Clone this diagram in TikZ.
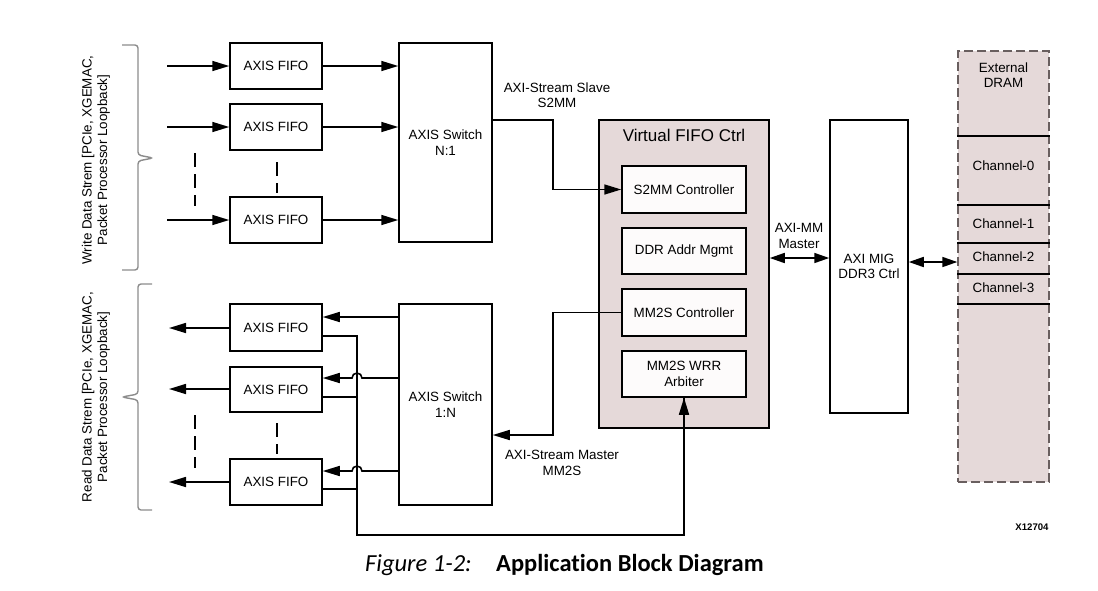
\documentclass[tikz,border=0pt]{standalone}
\usepackage{fontspec}
\setmainfont{Liberation Sans}
\newfontfamily\capfont[Ligatures=NoCommon]{Carlito}
\usetikzlibrary{arrows.meta}
\definecolor{pinkfill}{RGB}{229,217,217}
\definecolor{innerfill}{RGB}{253,251,251}
\definecolor{bracegray}{RGB}{140,140,140}
\definecolor{dashgray}{RGB}{105,95,95}
\begin{document}
\begin{tikzpicture}[x=1pt,y=-1pt,
  txt/.style={font=\fontsize{13.4}{15.5}\selectfont,align=center,inner sep=0pt},
  blk/.style={txt,draw=black,line width=1.5pt,fill=white,minimum width=92pt,minimum height=46pt},
  inblk/.style={blk,fill=innerfill,minimum width=124pt},
  arr/.style={line width=1.6pt,-{Triangle[length=17pt,width=10pt]}},
  darr/.style={line width=1.6pt,{Triangle[length=15pt,width=10pt]}-{Triangle[length=15pt,width=10pt]}},
  ln/.style={line width=1.6pt},
  dotline/.style={line width=1.6pt,dash pattern=on 14pt off 7pt},
  bracel/.style={draw=bracegray,line width=1.4pt,rounded corners=3pt}
]
\useasboundingbox (0,0) rectangle (1098,590);

% ---- write side
\node[blk] (wf1) at (276,66) {AXIS FIFO};
\node[blk] (wf2) at (276,127) {AXIS FIFO};
\node[blk] (wf3) at (276,220) {AXIS FIFO};
\node[blk,minimum width=93pt,minimum height=199pt] (sw1) at (445.5,142.5) {AXIS Switch\\N:1};
\coordinate (win1) at (167,66);
\coordinate (win2) at (167,127);
\coordinate (win3) at (167,220);
\draw[arr] (win1) -- (wf1.west);
\draw[arr] (win2) -- (wf2.west);
\draw[arr] (win3) -- (wf3.west);
\draw[arr] (wf1.east) -- (sw1.west |- wf1.east);
\draw[arr] (wf2.east) -- (sw1.west |- wf2.east);
\draw[arr] (wf3.east) -- (sw1.west |- wf3.east);
\draw[dotline] (195,153) -- (195,206);
\draw[dotline] (277,162) -- (277,193);

% ---- read side
\node[blk,minimum height=47pt] (rf1) at (276,327.5) {AXIS FIFO};
\node[blk,minimum height=45pt] (rf2) at (276,389.5) {AXIS FIFO};
\node[blk] (rf3) at (276,482) {AXIS FIFO};
\node[blk,minimum width=93pt,minimum height=201pt] (sw2) at (445.5,404.5) {AXIS Switch\\1:N};
\coordinate (rout1) at (169,328);
\coordinate (rout2) at (169,389);
\coordinate (rout3) at (169,482);
\draw[arr] (rf1.west |- rout1) -- (rout1);
\draw[arr] (rf2.west |- rout2) -- (rout2);
\draw[arr] (rf3.west |- rout3) -- (rout3);
\draw[dotline] (195,415) -- (195,468);
\draw[dotline] (277,423) -- (277,454);
\coordinate (bus) at (357,535);
\draw[arr] (sw2.west |- 0,317) -- (rf1.east |- 0,317);
\draw[arr] (sw2.west |- 0,378) -- (362,378) arc[start angle=0,end angle=180,radius=5pt] -- (rf2.east |- 0,378);
\draw[arr] (sw2.west |- 0,471) -- (362,471) arc[start angle=0,end angle=180,radius=5pt] -- (rf3.east |- 0,471);

% ---- virtual fifo
\node[draw=black,line width=1.5pt,fill=pinkfill,minimum width=170pt,minimum height=308pt,inner sep=0pt] (vf) at (684,274) {};
\node[txt,font=\fontsize{17}{20}\selectfont] (vft) at (684,135) {Virtual FIFO Ctrl};
\node[inblk,minimum height=47pt] (s2mm) at (684,189.5) {S2MM Controller};
\node[inblk] (ddr) at (684,251) {DDR Addr Mgmt};
\node[inblk,minimum height=47pt] (mm2s) at (684,312.5) {MM2S Controller};
\node[inblk] (wrr) at (684,374) {MM2S WRR\\Arbiter};

\draw[ln] (rf1.east |- 0,336) -| (bus) -| (wrr.south);
\draw[ln] (rf2.east |- 0,397) -- (bus |- 0,397);
\draw[ln] (rf3.east |- 0,489) -- (bus |- 0,489);
\draw[arr] (bus -| wrr.south) -- (wrr.south);

\draw[arr] (sw1.east |- 0,120) -- (553,120) -- (553,189.5) -- (s2mm.west);
\draw[arr] (mm2s.west) -- (553,312.5) |- (sw2.east |- 0,435);
\node[txt] (lslave) at (557,95) {AXI-Stream Slave\\S2MM};
\node[txt] (lmaster) at (562,463) {AXI-Stream Master\\MM2S};

% ---- MIG
\node[blk,minimum width=78pt,minimum height=293pt] (mig) at (869,266.5) {AXI MIG\\DDR3 Ctrl};
\draw[darr] (vf.east |- 0,258) -- (mig.west |- 0,258);
\node[txt] (lmm) at (799,236) {AXI-MM\\Master};

% ---- DRAM
\node[draw=dashgray,line width=1.4pt,dash pattern=on 9pt off 4pt,fill=pinkfill,minimum width=91pt,minimum height=431pt,inner sep=0pt] (dram) at (1003.5,266.5) {};
\foreach \yy in {136,205,243,274,304}{\draw[line width=1.6pt] (dram.west |- 0,\yy) -- (dram.east |- 0,\yy);}
\node[txt] (dt) at (1003.5,75) {External\\DRAM};
\node[txt] (c0) at (1003.5,166) {Channel-0};
\node[txt] (c1) at (1003.5,224) {Channel-1};
\node[txt] (c2) at (1003.5,257) {Channel-2};
\node[txt] (c3) at (1003.5,288) {Channel-3};
\draw[darr] (mig.east |- 0,262) -- (dram.west |- 0,262);

% ---- braces and side labels
\draw[bracel] (122,45) -- (138,45) -- (138,155) -- (153,158) -- (138,161) -- (138,270) -- (122,270);
\draw[bracel] (152,284) -- (138,284) -- (138,394) -- (122,397) -- (138,400) -- (138,510) -- (152,510);
\node[txt,rotate=90] (wlab) at (96,160) {Write Data Strem [PCIe, XGEMAC,\\Packet Processor Loopback]};
\node[txt,rotate=90] (rlab) at (96,397) {Read Data Strem [PCIe, XGEMAC,\\Packet Processor Loopback]};

% ---- id and caption
\node[inner sep=0pt,font=\fontsize{9.6}{11}\selectfont\bfseries] (xid) at (1032,527) {X12704};
\node[inner sep=0pt,anchor=base west,font=\fontsize{24.5}{28}\selectfont\capfont\itshape] (figno) at (365,571) {Figure 1-2:};
\node[inner sep=0pt,anchor=base west,font=\fontsize{24.5}{28}\selectfont\capfont\bfseries] (figt) at (496,571) {Application Block Diagram};
\end{tikzpicture}
\end{document}
